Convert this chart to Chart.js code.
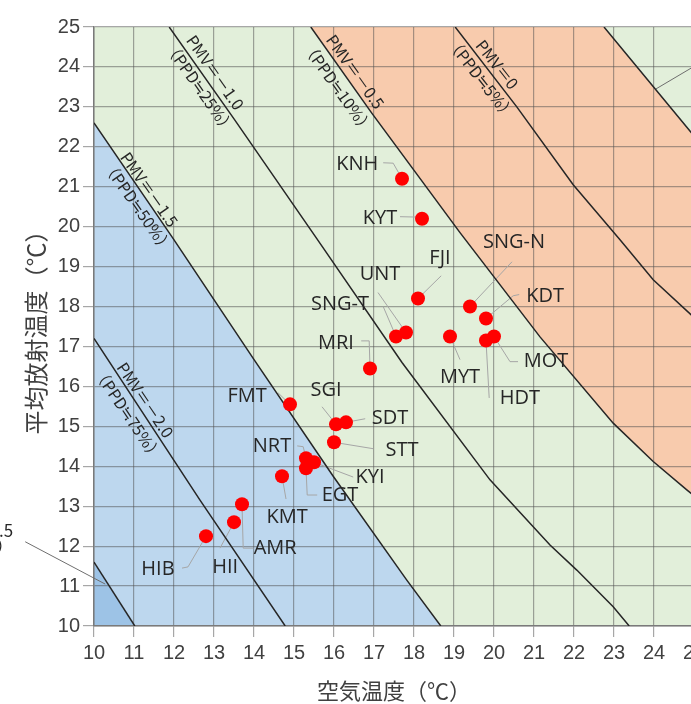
<!DOCTYPE html>
<html>
<head>
<meta charset="utf-8">
<script src="https://cdn.jsdelivr.net/npm/chart.js@4.4.1/dist/chart.umd.min.js"></script>
<style>
    html, body { margin: 0; padding: 0; background: #ffffff; overflow: hidden; }
    #contenedor { width: 691px; height: 704px; overflow: hidden; }
    canvas { display: block; }
</style>
</head>
<body>
<div id="contenedor"><canvas id="grafico" width="720" height="704"></canvas></div>
<script>
// Puntos medidos (aire, radiante)
const sitios = ["KNH", "KYT", "FJI", "UNT", "SNG-T", "MRI", "SNG-N", "KDT", "MOT", "HDT", "MYT",
    "FMT", "SGI", "SDT", "STT", "NRT", "KYI", "EGT", "KMT", "AMR", "HII", "HIB"];
const tempAire = [17.7, 18.2, 18.1, 17.8, 17.55, 16.9, 19.4, 19.8, 20.0, 19.8, 18.9,
    14.9, 16.05, 16.3, 16.0, 15.3, 15.5, 15.3, 14.7, 13.7, 13.5, 12.8];
const tempRadiante = [21.2, 20.2, 18.2, 17.35, 17.25, 16.45, 18.0, 17.7, 17.25, 17.15, 17.25,
    15.55, 15.05, 15.1, 14.6, 14.2, 14.1, 13.95, 13.75, 13.05, 12.6, 12.25];

// Curvas PMV [aire, radiante]
const pmvM25 = [[10, 11.6], [11.02, 10]];
const pmvM20 = [[10, 17.2], [12.65, 13.15], [14.78, 10]];
const pmvM15 = [[10, 22.6], [11.98, 19.7], [13.98, 16.7], [15.98, 13.75], [17.82, 11.15], [18.67, 10]];
const pmvM10 = [[11.88, 25], [13.5, 22.7], [15.57, 19.7], [17.7, 16.6], [19.9, 13.66], [21.4, 12.03], [22.07, 11.4], [22.98, 10.48], [23.38, 10]];
const pmvM05 = [[15.42, 25], [16.94, 22.85], [19.15, 19.85], [21.15, 17.24], [22.98, 15.08], [23.98, 14.12], [24.82, 13.41], [25.5, 12.85]];
const pmv0 = [[19.03, 25], [20.57, 23.0], [21.98, 21.05], [23.15, 19.67], [23.98, 18.67], [24.93, 17.79], [25.5, 17.3]];
const pmvP05 = [[22.75, 25], [24.93, 22.36], [25.5, 21.67]];

// Textos de las curvas
const textosPMV = [
    ["PMV＝－2.0", "（PPD≒75%）"],
    ["PMV＝－1.5", "（PPD≒50%）"],
    ["PMV＝－1.0", "（PPD≒25%）"],
    ["PMV＝－0.5", "（PPD≒10%）"],
    ["PMV＝0", "（PPD≒5%）"]
];
const textoPMVm25 = ["PMV＝－2.5", "（PPD≒93%）"];

// Ubicacion de etiquetas (en unidades de los ejes)
const posEtiquetas = [[16.58, 21.55], [17.15, 20.2], [18.65, 19.22], [17.15, 18.8], [16.15, 18.05], [16.05, 17.09],
    [20.5, 19.6], [21.28, 18.25], [21.3, 16.62], [20.65, 15.71], [19.15, 16.22], [13.83, 15.76], [15.8, 15.91],
    [17.4, 15.21], [17.7, 14.39], [14.45, 14.49], [16.9, 13.73], [16.15, 13.28], [14.83, 12.73], [14.53, 11.95],
    [13.28, 11.48], [11.6, 11.43]];
const guias = [
    [[17.23, 21.6], [17.48, 21.59]],
    [[17.65, 20.25], [18.08, 20.24]],
    [[18.68, 18.77]],
    [[17.1, 18.35]],
    [[17.23, 18.0]],
    [[16.68, 17.14], [16.88, 17.14]],
    [[20.45, 19.12]],
    [[20.63, 18.3], [20.48, 18.27]],
    [[20.6, 16.62], [20.4, 16.62]],
    [[19.88, 15.71], [19.88, 15.71]],
    [[19.15, 16.67]],
    [[14.6, 15.84]],
    [[15.7, 15.49]],
    [[16.78, 15.19]],
    [[16.98, 14.44]],
    [[15.08, 14.51], [15.23, 14.49]],
    [[16.48, 13.73]],
    [[15.58, 13.28], [15.33, 13.28]],
    [[14.8, 13.18]],
    [[13.98, 11.95], [13.73, 11.95]],
    [[13.15, 11.95]],
    [[12.2, 11.45], [12.35, 11.48]]
];
const posTextosPMV = [
    [[11.28, 15.66], [10.85, 15.31], 56],
    [[11.38, 20.93], [11.1, 20.5], 55],
    [[13.03, 23.86], [12.65, 23.48], 55],
    [[16.53, 23.88], [16.1, 23.48], 54.5],
    [[20.08, 24.06], [19.68, 23.71], 52]
];

const colores = { verde: "#e2efda", naranja: "#f8cbad", azul: "#bdd7ee", azulOscuro: "#9dc3e6" };

const aPares = (arr) => arr.map(p => ({ x: p[0], y: p[1] }));

const rellenoZonas = {
    id: "rellenoZonas",
    beforeDraw(chart) {
        const { ctx, chartArea: a, scales: { x, y } } = chart;
        const poligono = (pts, color) => {
            ctx.beginPath();
            pts.forEach((p, i) => {
                const px = x.getPixelForValue(p[0]), py = y.getPixelForValue(p[1]);
                if (i === 0) ctx.moveTo(px, py); else ctx.lineTo(px, py);
            });
            ctx.closePath();
            ctx.fillStyle = color;
            ctx.fill();
        };
        ctx.save();
        ctx.beginPath();
        ctx.rect(a.left, a.top, a.width, a.height);
        ctx.clip();
        ctx.fillStyle = colores.verde;
        ctx.fillRect(a.left, a.top, a.width, a.height);
        poligono([[x.min, y.min], ...pmvM15], colores.azul);
        poligono([[x.min, y.min], ...pmvM25], colores.azulOscuro);
        poligono([...pmvM05, ...pmvP05.slice().reverse()], colores.naranja);
        ctx.restore();
    }
};

const etiquetas = {
    id: "etiquetas",
    beforeDatasetsDraw(chart) {
        const { ctx, scales: { x, y } } = chart;
        const px = (v) => x.getPixelForValue(v), py = (v) => y.getPixelForValue(v);
        ctx.save();
        ctx.strokeStyle = "#a6a6a6";
        ctx.lineWidth = 1;
        guias.forEach((g, i) => {
            ctx.beginPath();
            ctx.moveTo(px(g[0][0]), py(g[0][1]));
            g.slice(1).forEach(p => ctx.lineTo(px(p[0]), py(p[1])));
            ctx.lineTo(px(tempAire[i]), py(tempRadiante[i]));
            ctx.stroke();
        });
        // guia de PMV=-2.5 y de la curva cortada arriba a la derecha
        ctx.strokeStyle = "#6e6e6e";
        ctx.beginPath();
        ctx.moveTo(px(8.28), py(12.11));
        ctx.lineTo(px(10.28), py(11.05));
        ctx.moveTo(px(24.05), py(23.45));
        ctx.lineTo(px(25.4), py(24.25));
        ctx.stroke();
        ctx.restore();
    },
    afterDatasetsDraw(chart) {
        const { ctx, scales: { x, y } } = chart;
        const px = (v) => x.getPixelForValue(v), py = (v) => y.getPixelForValue(v);
        ctx.save();
        ctx.fillStyle = "#262626";
        ctx.font = "20px 'Open Sans'";
        ctx.textAlign = "center";
        ctx.textBaseline = "middle";
        sitios.forEach((s, i) => ctx.fillText(s, px(posEtiquetas[i][0]), py(posEtiquetas[i][1])));

        ctx.font = "16px 'Noto Sans CJK JP'";
        textosPMV.forEach((t, i) => {
            const [p1, p2, ang] = posTextosPMV[i];
            [p1, p2].forEach((p, k) => {
                ctx.save();
                ctx.translate(px(p[0]), py(p[1]));
                ctx.rotate(ang * Math.PI / 180);
                ctx.fillText(t[k], 0, 0);
                ctx.restore();
            });
        });
        ctx.textAlign = "right";
        ctx.font = "17px 'Noto Sans CJK JP'";
        ctx.fillText(textoPMVm25[0], px(7.98), py(12.38));
        ctx.fillText(textoPMVm25[1], px(7.98), py(11.98));
        ctx.restore();
    }
};

const lineaPMV = (data) => ({
    data: aPares(data),
    showLine: true,
    borderColor: "#262626",
    borderWidth: 1.5,
    pointRadius: 0,
    tension: 0,
    order: 2
});

const colorRejilla = "rgba(80,80,80,0.5)";
const ctx = document.getElementById("grafico").getContext("2d");
new Chart(ctx, {
    type: "scatter",
    data: {
        datasets: [
            {
                data: tempAire.map((v, i) => ({ x: v, y: tempRadiante[i] })),
                backgroundColor: "#ff0000",
                borderWidth: 0,
                pointRadius: 7,
                order: 1
            },
            lineaPMV(pmvM25), lineaPMV(pmvM20), lineaPMV(pmvM15), lineaPMV(pmvM10),
            lineaPMV(pmvM05), lineaPMV(pmv0), lineaPMV(pmvP05)
        ]
    },
    options: {
        responsive: false,
        animation: false,
        layout: { padding: { left: 0, right: 26, top: 27, bottom: 0 } },
        plugins: { legend: { display: false }, tooltip: { enabled: false } },
        scales: {
            x: {
                type: "linear",
                min: 10, max: 25,
                afterFit: (s) => { s.height = 78; },
                ticks: { stepSize: 1, color: "#404040", font: { family: "'Liberation Sans', Arial", size: 20 }, padding: 4 },
                grid: { color: colorRejilla, tickColor: colorRejilla, tickLength: 11, lineWidth: 1.2 },
                border: { color: "#7a7a7a", width: 1.5 },
                title: { display: true, text: "空気温度（℃）", color: "#404040", font: { family: "'Noto Sans CJK JP'", size: 22 }, padding: 0 }
            },
            y: {
                type: "linear",
                min: 10, max: 25,
                afterFit: (s) => { s.width = 94; },
                ticks: { stepSize: 1, color: "#404040", font: { family: "'Liberation Sans', Arial", size: 20 }, padding: 3 },
                grid: { color: colorRejilla, tickColor: colorRejilla, tickLength: 11, lineWidth: 1.2 },
                border: { color: "#7a7a7a", width: 1.5 },
                title: { display: true, text: "平均放射温度（℃）", color: "#404040", font: { family: "'Noto Sans CJK JP'", size: 24 }, padding: { top: 21, bottom: 0 } }
            }
        }
    },
    plugins: [rellenoZonas, etiquetas]
});
</script>
</body>
</html>
